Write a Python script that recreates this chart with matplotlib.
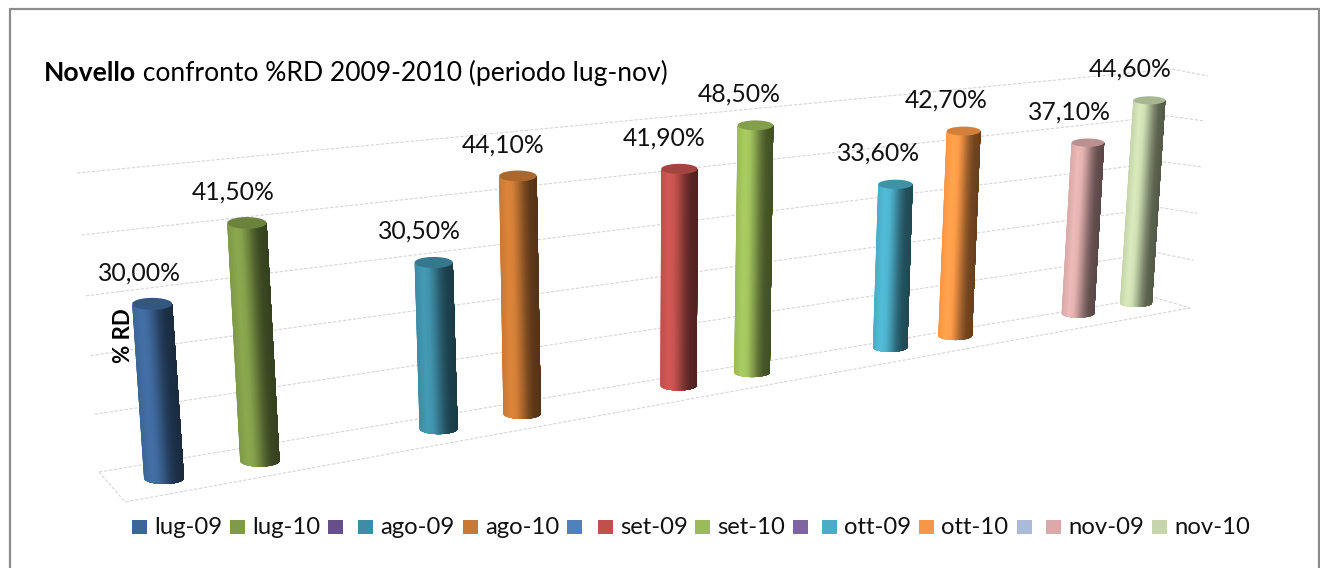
import matplotlib
matplotlib.use("Agg")
import matplotlib.pyplot as plt
import numpy as np
from matplotlib.collections import PolyCollection
from matplotlib.patches import Polygon, Rectangle

plt.rcParams["font.family"] = ["Lato", "DejaVu Sans"]

# data, blank names are the empty legend slots between months
SERIES = ["lug-09", "lug-10", "", "ago-09", "ago-10", "", "set-09", "set-10", "",
          "ott-09", "ott-10", "", "nov-09", "nov-10"]
VALUES = [30.0, 41.5, None, 30.5, 44.1, None, 41.9, 48.5, None,
          33.6, 42.7, None, 37.1, 44.6]
COLORS = ["#3D6698", "#7F9A48", "#675089", "#3E8CA5", "#CA7935", "#4F81BD", "#C0504D",
          "#9BBB59", "#8064A2", "#4BACC6", "#F79646", "#AABAD7", "#D9AAA9", "#C6D6AC"]
GRID_LEVELS = [0, 10, 20, 30, 40, 50]

TITLE_BOLD = "Novello"
TITLE_REST = " confronto %RD 2009-2010 (periodo lug-nov)"
YLABEL = "% RD"

# legend layout, left edge of each swatch in pixels
LEGEND_X = [132, 230, 328, 358, 463, 567, 598, 695, 793, 822, 919, 1017, 1046, 1152]

# shading across the cylinder, left to right
SHADE_T = [0, 0.2, 0.35, 0.5, 0.65, 0.8, 1]
SHADE_K = [1.0, 1.1, 1.05, 0.85, 0.62, 0.47, 0.42]


def fit_homography(src, dst):
    rows, rhs = [], []
    for (a, b), (x, y) in zip(src, dst):
        rows.append([a, b, 1, 0, 0, 0, -a * x, -b * x])
        rows.append([0, 0, 0, a, b, 1, -a * y, -b * y])
        rhs += [x, y]
    return np.append(np.linalg.solve(np.array(rows, float), np.array(rhs, float)), 1).reshape(3, 3)


def apply_h(h, a, b):
    p = h @ np.array([a, b, 1.0])
    return p[0] / p[2], p[1] / p[2]


# the tilted 3D view: slot/value plane of the bars and the back wall
BAR_PLANE = fit_homography(
    [(0, 0), (13, 0), (0, 50), (13, 50)],
    [(164, 478), (1136, 303), (144, 183), (1151, 75)],
)
WALL = fit_homography(
    [(0, 0), (1, 0), (0, 50), (1, 50)],
    [(99, 472), (1153, 297), (77, 173), (1172, 69)],
)
SIDE = fit_homography(
    [(0, 0), (1, 0), (0, 50), (1, 50)],
    [(1153, 297), (1190, 308), (1172, 69), (1208, 76)],
)


def shade(color, k):
    return tuple(min(1.0, c * k) for c in matplotlib.colors.to_rgb(color))


def draw_cylinder(ax, slot, value, color):
    bx, by = apply_h(BAR_PLANE, slot, 0)
    tx, ty = apply_h(BAR_PLANE, slot, value)
    r = np.interp(slot, [0, 13], [20, 16])
    e = np.interp(slot, [0, 13], [6, 4])
    # painted left to right, every strip reaches the right edge so no seams show
    angles = np.linspace(np.pi, 0, 61)
    strips, colors = [], []
    for a0 in angles[:-1]:
        rest = angles[angles <= a0]
        bottom = [(bx + r * np.cos(a), by + e * np.sin(a)) for a in rest]
        top = [(tx + r * np.cos(a), ty + e * np.sin(a)) for a in rest[::-1]]
        strips.append(bottom + top)
        t = (1 + np.cos(a0)) / 2
        colors.append(shade(color, np.interp(t, SHADE_T, SHADE_K)))
    ax.add_collection(PolyCollection(strips, facecolors=colors, edgecolors="none",
                                     linewidths=0, zorder=3))
    th = np.linspace(0, 2 * np.pi, 60)
    cap = np.column_stack([tx + r * np.cos(th), ty + e * np.sin(th)])
    ax.add_patch(Polygon(cap, closed=True, facecolor=shade(color, 0.85),
                         edgecolor="none", zorder=4))


fig = plt.figure(figsize=(13.2, 5.68), dpi=100)
ax = fig.add_axes([0, 0, 1, 1])
ax.set_xlim(0, 1320)
ax.set_ylim(568, 0)
ax.axis("off")

# chart frame, open at the bottom
ax.plot([10, 10, 1319, 1319], [568, 9, 9, 568], color="#8C8C8C", lw=1.6, zorder=1)

# gridlines on back and side wall
grid_style = dict(color="#D6D6D6", lw=0.8, ls=(0, (3, 1.5)), zorder=2)
for level in GRID_LEVELS:
    p0 = apply_h(WALL, 0, level)
    p1 = apply_h(WALL, 1, level)
    p2 = apply_h(SIDE, 1, level)
    ax.plot([p0[0], p1[0], p2[0]], [p0[1], p1[1], p2[1]], **grid_style)

# floor front edge
ax.plot([99, 125, 1190], [472, 502, 308], **grid_style)

for slot, (value, color) in enumerate(zip(VALUES, COLORS)):
    if value is None:
        continue
    draw_cylinder(ax, slot, value, color)
    tx, ty = apply_h(BAR_PLANE, slot, value)
    ax.text(tx - 13 - slot * 0.45, ty - 31, f"{value:.2f}%".replace(".", ","),
            fontsize=17.8, ha="center", va="center", color="#111111", zorder=5)

# title, bold word then the rest
title = ax.text(44, 81, TITLE_BOLD, fontsize=19.1, fontweight="bold", ha="left",
                va="baseline", color="black", zorder=5)
fig.canvas.draw()
title_end = title.get_window_extent().x1
ax.text(title_end, 81, TITLE_REST, fontsize=19.1, ha="left", va="baseline",
        color="black", zorder=5)

ax.text(123, 336, YLABEL, fontsize=16, fontweight="bold", rotation=90, ha="center",
        va="center", color="black", zorder=2.5)

# legend
for x, name, color in zip(LEGEND_X, SERIES, COLORS):
    ax.add_patch(Rectangle((x, 520), 15, 14, facecolor=color, edgecolor="none", zorder=5))
    if name:
        ax.text(x + 22, 527, name, fontsize=17.2, ha="left", va="center",
                color="#111111", zorder=5)

fig.savefig("out.png", dpi=100)
